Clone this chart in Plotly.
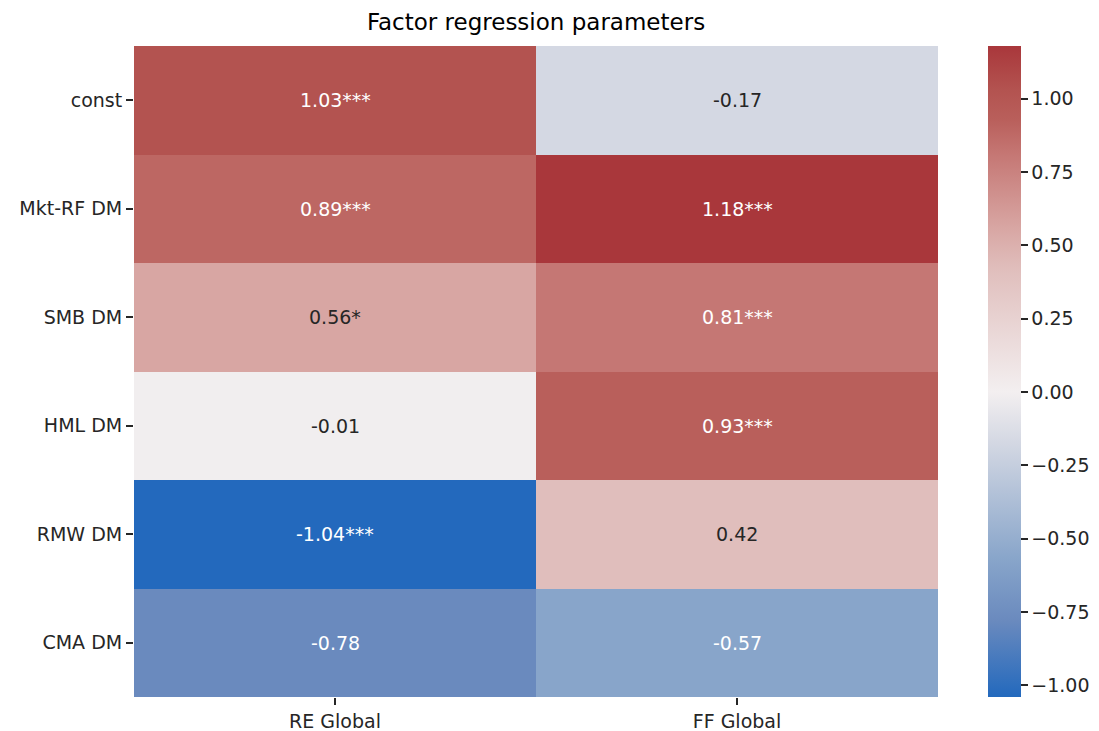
import plotly.graph_objects as go

# Regression coefficients per factor (rows) and portfolio (columns)
factors = ["const", "Mkt-RF DM", "SMB DM", "HML DM", "RMW DM", "CMA DM"]
portfolios = ["RE Global", "FF Global"]
re_global = [1.03, 0.89, 0.56, -0.01, -1.04, -0.78]
ff_global = [-0.17, 1.18, 0.81, 0.93, 0.42, -0.57]
re_stars = ["***", "***", "*", "", "***", ""]
ff_stars = ["", "***", "***", "***", "", ""]
cbar_ticks = [-1.0, -0.75, -0.5, -0.25, 0.0, 0.25, 0.5, 0.75, 1.0]

z = [[r, f] for r, f in zip(re_global, ff_global)]
stars = [[a, b] for a, b in zip(re_stars, ff_stars)]
zmin = min(min(re_global), min(ff_global))
zmax = max(max(re_global), max(ff_global))

# Diverging blue-white-red palette (vlag-like), anchored by value
anchors = [
    (-1.04, (35, 105, 189)),
    (-0.78, (106, 138, 190)),
    (-0.57, (136, 165, 202)),
    (-0.17, (212, 216, 227)),
    (0.00, (243, 239, 240)),
    (0.42, (224, 190, 188)),
    (0.56, (216, 166, 163)),
    (0.81, (197, 119, 116)),
    (0.93, (185, 95, 91)),
    (1.03, (179, 83, 80)),
    (1.18, (169, 55, 59)),
]
colorscale = [[(v - zmin) / (zmax - zmin), "rgb(%d,%d,%d)" % c] for v, c in anchors]
colorscale[0][0] = 0.0
colorscale[-1][0] = 1.0

font_family = "DejaVu Sans"
fs = 19

L, R, T, B = 134, 938, 46, 697
W, H = 1099, 731

fig = go.Figure(
    go.Heatmap(
        z=z,
        x=portfolios,
        y=factors,
        zmin=zmin,
        zmax=zmax,
        colorscale=colorscale,
        colorbar=dict(
            x=(988 - L) / (R - L),
            xanchor="left",
            xpad=0,
            y=0.5,
            yanchor="middle",
            ypad=0,
            len=1.0,
            lenmode="fraction",
            thickness=33,
            outlinewidth=0,
            tickvals=cbar_ticks,
            tickformat=".2f",
            ticks="outside",
            ticklen=7,
            tickwidth=1.5,
            tickcolor="#262626",
            tickfont=dict(family=font_family, size=fs, color="#262626"),
        ),
        hoverinfo="skip",
    )
)

# Value labels with significance stars
annotations = []
for i, fac in enumerate(factors):
    for j, port in enumerate(portfolios):
        v = z[i][j]
        light = -0.35 < v < 0.7
        annotations.append(
            dict(
                x=port,
                y=fac,
                text=f"{v:.2f}{stars[i][j]}",
                showarrow=False,
                font=dict(family=font_family, size=fs,
                          color="#262626" if light else "#ffffff"),
            )
        )

fig.update_layout(
    width=W,
    height=H,
    margin=dict(l=L, r=W - R, t=T, b=H - B, autoexpand=False),
    paper_bgcolor="white",
    plot_bgcolor="white",
    title=dict(
        text="Factor regression parameters",
        x=(L + R) / 2 / W,
        xanchor="center",
        y=1 - 22 / H,
        yanchor="middle",
        font=dict(family=font_family, size=23, color="#000000"),
    ),
    annotations=annotations,
    font=dict(family=font_family, size=fs, color="#262626"),
)
fig.update_xaxes(
    showgrid=False, zeroline=False, showline=False,
    ticks="outside", ticklen=7, tickwidth=1.5, tickcolor="#262626",
    tickfont=dict(family=font_family, size=fs, color="#262626"),
)
fig.update_yaxes(
    autorange="reversed",
    showgrid=False, zeroline=False, showline=False,
    ticks="outside", ticklen=7, tickwidth=1.5, tickcolor="#262626",
    tickfont=dict(family=font_family, size=fs, color="#262626"),
)

fig.write_html("out.html")
